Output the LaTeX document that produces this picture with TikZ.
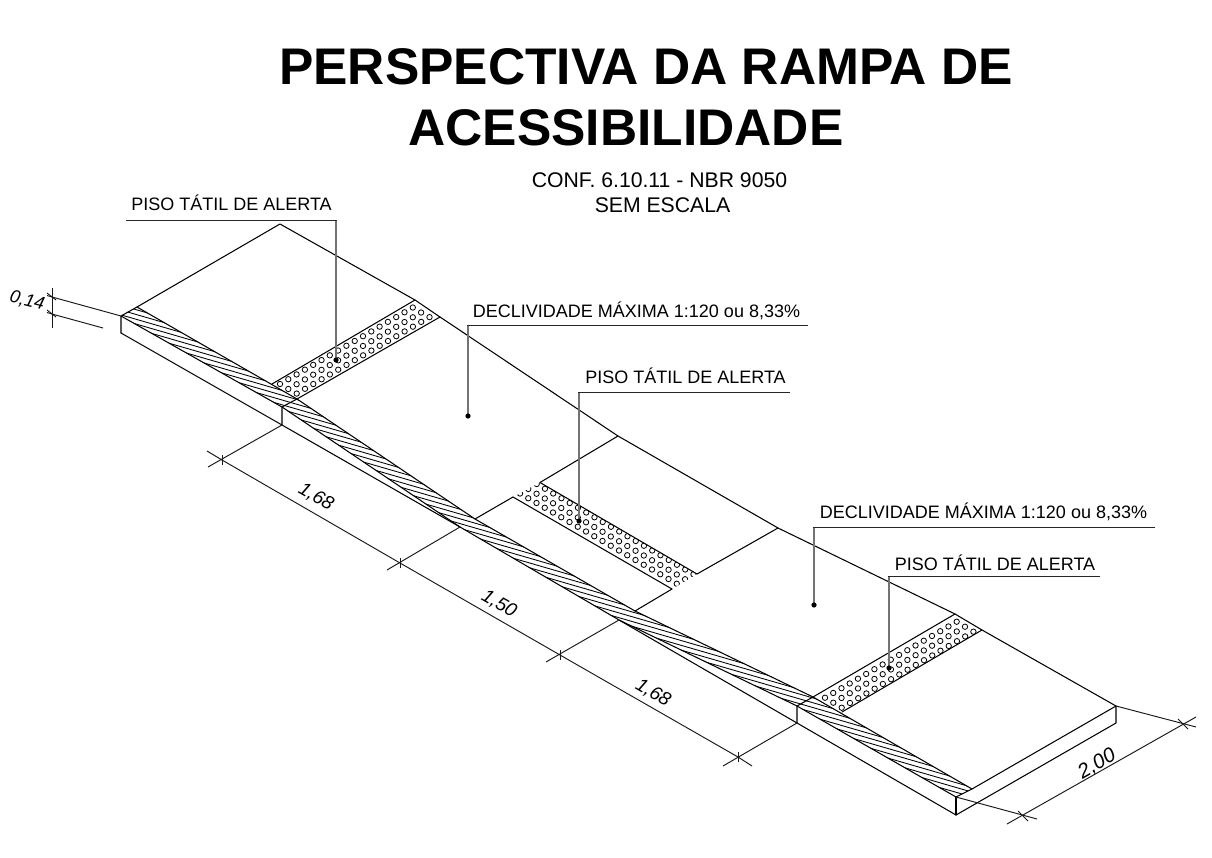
\documentclass[tikz,border=0pt]{standalone}
\usepackage{fontspec}
\setmainfont{Liberation Sans}
\tikzset{
  ln/.style={line width=1.05pt,black,line cap=round,line join=round},
  thin ln/.style={line width=0.95pt,black!90},
  hatchln/.style={line width=0.85pt,black},
  dotc/.style={line width=0.8pt,black},
  lbl/.style={inner sep=0pt,font=\fontsize{18}{20}\selectfont,anchor=base},
  dimlbl/.style={inner sep=0pt,font=\fontsize{19}{20}\selectfont\itshape},
  leadh/.style={line width=0.95pt,black!85},
  leadv/.style={line width=1.5pt,black!55},
}
\newcommand{\hatchband}[1]{%
  \begin{scope}
    \clip #1;
    \foreach \k in {0,...,80}{
      \draw[hatchln] (100,{232+\k*4.8}) -- (1000,{232+\k*4.8+261});
    }
  \end{scope}}
\newcommand{\dotrow}[3]{% start x, start y, count; step in \sx,\sy
  \foreach \n in {0,...,#3}{
    \draw[dotc] ({#1+\n*\sx},{#2+\n*\sy}) circle (2.7);
  }}
\begin{document}
\begin{tikzpicture}[x=1pt,y=-1pt]
\useasboundingbox (0,0) rectangle (1212,858);
\fill[white] (0,0) rectangle (1212,858);

% ---- titles
\node[inner sep=0pt,font=\fontsize{51.5}{60}\selectfont\bfseries] (t1) at (646,67) {PERSPECTIVA DA RAMPA DE};
\node[inner sep=0pt,font=\fontsize{51.5}{60}\selectfont\bfseries] (t2) at (626,128) {ACESSIBILIDADE};
\node[inner sep=0pt,font=\fontsize{21.2}{22}\selectfont] (t3) at (659.5,180) {CONF. 6.10.11 - NBR 9050};
\node[inner sep=0pt,font=\fontsize{21.2}{22}\selectfont] (t4) at (662.5,205.5) {SEM ESCALA};

% ---- key points
\coordinate (A) at (121,316);   \coordinate (Ab) at (121,333);
\coordinate (Ai) at (137,307);  \coordinate (B) at (280,224);
\coordinate (C) at (282,407);   \coordinate (Cb) at (282,425);
\coordinate (Ci) at (297,399);
\coordinate (D) at (460,527);   \coordinate (Di) at (475,519);
\coordinate (E) at (619,620);   \coordinate (Ei) at (635,611);
\coordinate (F) at (797,706);   \coordinate (Fb) at (797,723);
\coordinate (Fi) at (813,697);
\coordinate (G) at (956,797);   \coordinate (Gb) at (956,815);
\coordinate (Gi) at (972,789);
\coordinate (H) at (1116,706);  \coordinate (Hb) at (1116,723);
\coordinate (b1a) at (415,300); \coordinate (b1b) at (440,317); \coordinate (b1c) at (272,384);
\coordinate (P) at (618,436);   \coordinate (Q) at (778,528);
\coordinate (b2a) at (540,482.5); \coordinate (b2b) at (513,497);
\coordinate (b2c) at (672,589); \coordinate (b2d) at (697,574);
\coordinate (b3a) at (955,614); \coordinate (b3b) at (982,630); \coordinate (b3c) at (842,712);
\coordinate (b3d) at (813,697);

% ---- hatch band
\hatchband{(A) -- (Ai) -- (Ci) -- (Di) -- (Ei) -- (Fi) -- (Gi) -- (G) -- (F) -- (E) -- (D) -- (C) -- cycle}

% ---- tactile dots
\begin{scope}
  \clip (b1a) -- (b1b) -- (Ci) -- (b1c) -- cycle;
  \def\sx{8.3}\def\sy{-4.78}
  \dotrow{280}{384}{16}\dotrow{288.3}{389}{16}\dotrow{296.7}{393.6}{16}
\end{scope}
\begin{scope}
  \clip (b2a) -- (b2b) -- (b2c) -- (b2d) -- cycle;
  \def\sx{8.25}\def\sy{4.75}
  \dotrow{536.7}{484}{19}\dotrow{528.3}{489}{19}\dotrow{520}{493.5}{19}
\end{scope}
\begin{scope}
  \clip (b3a) -- (b3b) -- (b3c) -- (b3d) -- cycle;
  \def\sx{8.23}\def\sy{-4.75}
  \dotrow{825}{697.7}{16}\dotrow{833.3}{702.7}{16}\dotrow{841.7}{707.7}{16}
\end{scope}

% ---- outline
\draw[ln] (Ai) -- (B) -- (b1a) -- (b1b) -- (P) -- (Q) -- (b3a) -- (b3b) -- (H) -- (Gi);
\draw[ln] (Ab) -- (A) -- (Ai) -- (Ci) -- (Di) -- (Ei) -- (Fi) -- (Gi) -- (G) -- (F) -- (E) -- (D) -- (C) -- (A);
\draw[ln] (Ab) -- (Cb) -- (D);
\draw[ln] (E) -- (Fb) -- (Gb) -- (Hb) -- (H);
\draw[ln] (Gb) -- (G);
\draw[ln] (Cb) -- (C) -- (Ci);
\draw[ln] (Fb) -- (F) -- (Fi);
% tactile band edges
\draw[ln] (b1a) -- (b1c);
\draw[ln] (b1b) -- (Ci);
\draw[ln] (b2a) -- (b2d);
\draw[ln] (b2b) -- (b2c);
\draw[ln] (b3a) -- (Fi);
\draw[ln] (b3b) -- (b3c);
% cross lines of the ramp
\draw[ln] (P) -- (b2a) (b2b) -- (Di);
\draw[ln] (Q) -- (b2d) (b2c) -- (Ei);

% ---- dimension lines
\coordinate (d0) at (207,451); \coordinate (d1) at (222,460); \coordinate (d2) at (400,563);
\coordinate (d3) at (560,655); \coordinate (d4) at (738,757); \coordinate (d5) at (752,766);
\draw[thin ln] (d0) -- (d1) -- (d2) -- (d3) -- (d4) -- (d5);
\draw[thin ln] (Cb) -- (208,467);
\draw[thin ln] (D) -- (387,570);
\draw[thin ln] (E) -- (546,662);
\draw[thin ln] (Fb) -- (723,766);
\foreach \p in {d1,d2,d3,d4}{\draw[thin ln] ([yshift=-5pt]\p) -- ([yshift=5pt]\p);}

\coordinate (e0) at (1007,824); \coordinate (e1) at (1023,816); \coordinate (e2) at (1183,724); \coordinate (e3) at (1196,717);
\draw[thin ln] (e0) -- (e3);
\draw[thin ln] (G) -- (1037,819);
\draw[thin ln] (H) -- (1196,727);
\draw[thin ln] (1018,811) -- (1028,821);
\draw[thin ln] (1178,719) -- (1188,729);

\coordinate (f0) at (52,288); \coordinate (f1) at (52,297); \coordinate (f2) at (52,314); \coordinate (f3) at (52,328);
\draw[thin ln] (f0) -- (f3);
\draw[thin ln] (A) -- (f1) -- (47,295.5);
\draw[thin ln] (103,328) -- (f2) -- (47,312.5);
\draw[thin ln] (47,293) -- (56,300);
\draw[thin ln] (47,310) -- (56,317);

\node[dimlbl,font=\fontsize{18}{20}\selectfont\itshape,rotate=-14] (v0) at (27,301) {0,14};
\node[dimlbl,rotate=-30] (v1) at (316,497) {1,68};
\node[dimlbl,rotate=-30] (v2) at (499,604) {1,50};
\node[dimlbl,rotate=-30] (v3) at (653,693) {1,68};
\node[dimlbl,font=\fontsize{20.5}{22}\selectfont\itshape,rotate=30]  (v4) at (1097,764) {2,00};

% ---- leaders
\node[lbl] (l1) at (231.5,211) {PISO TÁTIL DE ALERTA};
\node[lbl] (l2) at (636.5,318) {DECLIVIDADE MÁXIMA 1:120 ou 8,33\%};
\node[lbl] (l3) at (685.5,383) {PISO TÁTIL DE ALERTA};
\node[lbl] (l4) at (983.5,518) {DECLIVIDADE MÁXIMA 1:120 ou 8,33\%};
\node[lbl] (l5) at (995,570) {PISO TÁTIL DE ALERTA};

\coordinate (p1) at (336,360); \coordinate (p2) at (468,416); \coordinate (p3) at (579,521);
\coordinate (p4) at (814,605); \coordinate (p5) at (889,668);
\draw[leadv] (336,220) -- (p1);
\draw[leadv] (468,325) -- (p2);
\draw[leadv] (579,392) -- (p3);
\draw[leadv] (814,527) -- (p4);
\draw[leadv] (889,576) -- (p5);
\draw[leadh] (126,220) -- (336.7,220);
\draw[leadh] (808,325) -- (467.3,325);
\draw[leadh] (790,392) -- (578.3,392);
\draw[leadh] (1155,527) -- (813.3,527);
\draw[leadh] (1100,576) -- (888.3,576);
\foreach \p in {p1,p2,p3,p4,p5}{\fill[black] (\p) circle (2.6);}
\end{tikzpicture}
\end{document}
